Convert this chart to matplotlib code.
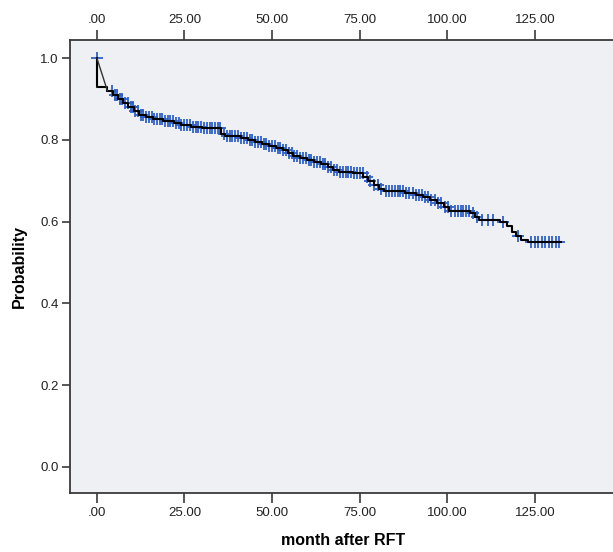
"""
Kaplan-Meier style survival curve, month after RFT
"""

import numpy as np
import matplotlib
matplotlib.use("Agg")
import matplotlib.pyplot as plt
from matplotlib.ticker import FuncFormatter

plt.rcParams['font.family'] = ['Liberation Sans', 'DejaVu Sans']

# step curve: event times and survival after each event
event_times = [0, 3, 4.5, 6, 7.5, 9, 10.5, 12, 14, 16, 19, 22, 24, 27, 30,
               35.5, 36.5, 41, 43, 45, 47, 49, 51, 53, 54.5, 56, 58, 60, 62,
               64, 66, 67.5, 69, 73, 76, 77.5, 79, 80.5, 82, 88, 91, 93, 95,
               97, 99, 100.5, 106.5, 108, 109, 115, 117, 118.5, 119.5, 121, 123]
survival = [0.93, 0.92, 0.91, 0.90, 0.89, 0.88, 0.87, 0.86, 0.855, 0.85, 0.845,
            0.84, 0.835, 0.83, 0.828, 0.815, 0.808, 0.805, 0.80, 0.795, 0.79,
            0.785, 0.78, 0.775, 0.768, 0.76, 0.755, 0.75, 0.745, 0.74, 0.733,
            0.727, 0.721, 0.718, 0.71, 0.70, 0.69, 0.68, 0.675, 0.67, 0.665,
            0.66, 0.652, 0.645, 0.635, 0.625, 0.62, 0.61, 0.604, 0.60, 0.59,
            0.575, 0.565, 0.555, 0.55]
end_time = 132.5

# censored observations (months)
censor_times = [0, 4.2, 5.1, 5.8, 6.7, 7.3, 8.1, 8.8, 9.6, 10.2, 11.0, 11.7,
                12.5, 13.3, 14.1, 14.8, 15.6, 16.4, 17.2, 18.0, 18.7, 19.5,
                20.3, 21.0, 21.8, 22.6, 23.3, 24.1, 25.0, 25.8, 26.6, 27.4,
                28.2, 29.0, 29.8, 30.6, 31.4, 32.2, 33.0, 33.8, 34.6, 35.2,
                36.2, 37.1, 37.9, 38.7, 39.5, 40.3, 41.2, 42.0, 42.8, 43.6,
                44.4, 45.2, 46.0, 46.8, 47.6, 48.4, 49.2, 50.0, 50.8, 51.6,
                52.4, 53.2, 54.0, 54.8, 55.6, 56.4, 57.2, 58.0, 58.8, 59.6,
                60.4, 61.2, 62.0, 62.8, 63.6, 64.4, 65.2, 66.0, 66.8, 67.6,
                68.4, 69.4, 70.2, 71.0, 71.8, 72.6, 73.5, 74.3, 75.1, 75.9,
                77.0, 78.0, 79.2, 80.2, 81.2, 82.4, 83.3, 84.1, 85.0, 85.8,
                86.6, 87.4, 88.3, 89.2, 90.1, 91.0, 91.9, 92.8, 93.7, 94.6,
                95.5, 96.4, 97.4, 98.3, 99.4, 100.3, 101.2, 102.1, 103.0,
                103.8, 104.6, 105.4, 106.2, 107.4, 108.4, 110.0, 111.6, 113.0,
                116.0, 120.3, 124.0, 125.0, 126.0, 127.0, 128.0, 129.0, 130.0,
                131.0, 132.0]

bg_color = "#eef0f3"
frame_color = "#3a3a3a"
mark_color = "#3060c8"

fig = plt.figure(figsize=(6.13, 5.52), dpi=100)
ax = fig.add_axes([0.114, 0.107, 0.89, 0.8205])
ax.set_facecolor(bg_color)

# step path
xs = [event_times[0], event_times[0]]
ys = [1.0, survival[0]]
for i in range(1, len(event_times)):
    xs += [event_times[i], event_times[i]]
    ys += [survival[i - 1], survival[i]]
xs.append(end_time)
ys.append(survival[-1])
ax.plot(xs, ys, color="black", lw=1.5, zorder=3)
# odd diagonal segment at start
ax.plot([event_times[0], event_times[1]], [1.0, survival[1]],
        color="#333333", lw=1.0, zorder=3)

# censor marks on the curve
et = np.array(event_times)
sv = np.array(survival)
cy = []
for t in censor_times:
    if t <= 0:
        cy.append(1.0)
    else:
        idx = np.searchsorted(et, t, side="right") - 1
        cy.append(sv[idx])
ax.plot(censor_times, cy, linestyle="none", marker="+", color=mark_color,
        markersize=8, markeredgewidth=1.3, zorder=2)

ax.set_xlim(-7.7, 148)
ax.set_ylim(-0.064, 1.044)
ax.set_xticks([0, 25, 50, 75, 100, 125])
ax.xaxis.set_major_formatter(FuncFormatter(
    lambda v, p: ".00" if v == 0 else f"{v:.2f}"))
ax.set_yticks([0.0, 0.2, 0.4, 0.6, 0.8, 1.0])
ax.yaxis.set_major_formatter(FuncFormatter(lambda v, p: f"{v:.1f}"))

ax.tick_params(axis="x", top=True, labeltop=True, direction="out",
               length=7, width=1.2, color=frame_color, labelsize=9.5,
               labelcolor="#222222", pad=3)
ax.tick_params(axis="y", direction="out", length=6, width=1.2,
               color=frame_color, labelsize=9.5, labelcolor="#222222", pad=2)

for s in ["left", "top", "bottom"]:
    ax.spines[s].set_color(frame_color)
    ax.spines[s].set_linewidth(1.3)
ax.spines["right"].set_visible(False)

ax.set_xlabel("month after RFT", fontsize=11.5, fontweight="bold", labelpad=10)
ax.set_ylabel("Probability", fontsize=11.5, fontweight="bold", labelpad=10)

fig.savefig("out.png", dpi=100)
